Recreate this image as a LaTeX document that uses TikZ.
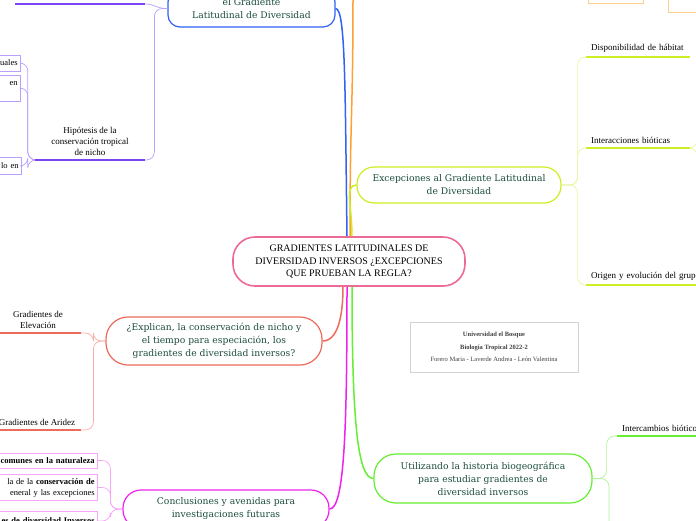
\documentclass[tikz,border=0pt]{standalone}
\usepackage{fontspec}
\setmainfont{Liberation Serif}
\newfontfamily\temafont{DejaVu Serif}
\usetikzlibrary{positioning}

\definecolor{rosa}{HTML}{EE6A96}
\definecolor{azul}{HTML}{2F62F5}
\definecolor{naranja}{HTML}{FFA033}
\definecolor{naranjaclaro}{HTML}{FFD08C}
\definecolor{morado}{HTML}{7A45F5}
\definecolor{moradoclaro}{HTML}{B9A0FF}
\definecolor{salmon}{HTML}{EE6A5A}
\definecolor{salmonclaro}{HTML}{F7AFA5}
\definecolor{fucsia}{HTML}{EE22EE}
\definecolor{fucsiaclaro}{HTML}{F7A5F7}
\definecolor{lima}{HTML}{CCEE22}
\definecolor{limaclaro}{HTML}{E6F7A0}
\definecolor{verdeb}{HTML}{66EE33}
\definecolor{verdeclaro}{HTML}{B0F595}
\definecolor{textoverde}{HTML}{1B4D3B}

\begin{document}
\begin{tikzpicture}[
          x=1pt, y=-1pt,
          raiz/.style = {draw=rosa, line width=1.6pt, rounded corners=22pt, fill=white, align=center, font=\fontsize{10}{12.5}\selectfont, minimum width=232pt, minimum height=49pt, inner sep=0pt},
          tema/.style = {draw, line width=1.2pt, rounded corners=17pt, fill=white, align=center, text=textoverde, font=\temafont\fontsize{9.2}{13}\selectfont, inner sep=0pt},
          hoja/.style = {font=\fontsize{9}{11}\selectfont, align=center, inner xsep=0pt, inner ysep=4pt},
          caja/.style = {draw, line width=0.8pt, fill=white, font=\fontsize{8.5}{11}\selectfont, align=right, text width=70pt, inner sep=3pt},
          rama/.style = {line width=1.5pt},
          subrama/.style = {line width=0.7pt, rounded corners=8pt},
          subraya/.style = {line width=1.6pt}
         ]
        \useasboundingbox (0,0) rectangle (696,520);
        \clip (0,0) rectangle (696,520);

        % Tema central
        \node[raiz] (raiz) at (349,261.5) {GRADIENTES LATITUDINALES DE\\DIVERSIDAD INVERSOS ¿EXCEPCIONES\\QUE PRUEBAN LA REGLA?};

        % Temas principales
        \node[tema, draw=azul, rounded corners=12pt, minimum width=167pt, minimum height=37pt] (hipot) at (251.5,8.5) {el Gradiente\\Latitudinal de Diversidad};
        \node[tema, draw=lima, minimum width=204pt, minimum height=36pt] (excep) at (459,185) {Excepciones al Gradiente Latitudinal\\de Diversidad};
        \node[tema, draw=salmon, rounded corners=22pt, minimum width=216pt, minimum height=48pt] (expl) at (214,341) {¿Explican, la conservación de nicho y\\el tiempo para especiación, los\\gradientes de diversidad inversos?};
        \node[tema, draw=verdeb, rounded corners=22pt, minimum width=218pt, minimum height=49pt] (util) at (483,478.5) {Utilizando la historia biogeográfica\\para estudiar gradientes de\\diversidad inversos};
        \node[tema, draw=fucsia, rounded corners=18pt, minimum width=206pt, minimum height=38pt] (concl) at (226,509) {Conclusiones y avenidas para\\investigaciones futuras};

        % Recuadro de datos
        \node[draw=gray!35, line width=1pt, fill=white, minimum width=168pt, minimum height=50pt, align=center, font=\fontsize{6.5}{12.5}\selectfont, text=black!75] (info) at (494,347) {\textbf{Universidad el Bosque}\\\textbf{Biología Tropical 2022-2}\\Forero Maria - Laverde Andrea - León Valentina};

        % Subtemas (azul / morado)
        \node[hoja, minimum width=130pt, anchor=south] (ramaA) at (80,4) {};
        \node[hoja, minimum width=110pt, anchor=south] (hipo) at (90,160) {Hipótesis de la\\conservación tropical\\de nicho};
        \node[caja, draw=moradoclaro, anchor=east, minimum height=16pt] (iguales) at (21,63) {uales};
        \node[caja, draw=moradoclaro, anchor=east, minimum height=26pt, text depth=10pt] (tropico) at (21,88) {en};
        \node[caja, draw=moradoclaro, anchor=east, minimum height=17pt] (tiempo) at (22,166) {lo en};

        % Subtemas (salmon)
        \node[hoja, minimum width=86pt, anchor=south] (elev) at (38,333) {Gradientes de\\Elevación};
        \node[hoja, minimum width=88pt, anchor=south] (arid) at (37,430) {Gradientes de Aridez};

        % Subtemas (fucsia)
        \node[caja, draw=fucsiaclaro, anchor=east, text width=140pt, minimum height=15pt] (comun) at (98,460.5) {\bfseries comunes en la naturaleza};
        \node[caja, draw=fucsiaclaro, anchor=east, text width=140pt, minimum height=26pt] (regla) at (98,487.5) {la de la \textbf{conservación de}\\eneral y las excepciones};
        \node[caja, draw=fucsiaclaro, anchor=east, text width=140pt, minimum height=20pt] (inversos) at (98,521) {\bfseries es de diversidad Inversos};

        % Subtemas (lima)
        \node[hoja, text width=94pt, align=left, inner xsep=5pt, anchor=south west] (disp) at (586,57) {Disponibilidad de hábitat};
        \node[hoja, text width=94pt, align=left, inner xsep=5pt, anchor=south west] (inter) at (586,148) {Interacciones bióticas};
        \node[hoja, text width=130pt, align=left, inner xsep=5pt, anchor=south west] (origen) at (586,285) {Origen y evolución del grupo};

        % Subtemas (verde)
        \node[hoja, text width=100pt, align=left, inner xsep=5pt, anchor=south west] (interc) at (617,436) {Intercambios bióticos};

        % Subtemas (naranja)
        \node[draw=naranjaclaro, line width=1pt, minimum width=55pt, minimum height=20pt, anchor=south] (nar1) at (615.5,4) {};
        \node[draw=naranjaclaro, line width=1pt, minimum width=40pt, minimum height=30pt, anchor=south west] (nar2) at (668,13) {};

        \coordinate (narfin) at (353,-5);
        \coordinate (utilfin) at (609,540);
        \coordinate (interA) at (697,100);
        \coordinate (interB) at (697,200);

        % Ramas principales
        \draw[rama, azul] ([xshift=-2pt]raiz.north) .. controls +(-2,-150) and +(10,0) .. (hipot.east);
        \draw[rama, naranja] ([xshift=1pt]raiz.north) .. controls +(0,-120) and +(0,120) .. (narfin);
        \draw[rama, lima] ([xshift=3pt]raiz.north) .. controls +(0,-30) and +(-12,0) .. (excep.west);
        \draw[rama, salmon] ([xshift=-6pt]raiz.south) .. controls +(0,30) and +(15,0) .. (expl.east);
        \draw[rama, fucsia] ([xshift=-2pt]raiz.south) .. controls +(0,140) and +(15,0) .. (concl.east);
        \draw[rama, verdeb] ([xshift=3pt]raiz.south) .. controls +(0,140) and +(-15,0) .. (util.west);

        % Ramas secundarias
        \draw[subrama, moradoclaro] (hipot.west) .. controls +(-12,0) and +(10,0) .. (ramaA.south east);
        \draw[subrama, moradoclaro] (hipot.west) -- +(-13,0) |- (hipo.south east);
        \draw[subrama, moradoclaro] (hipo.south west) -- +(-7,0) |- (iguales.east);
        \draw[subrama, moradoclaro] (hipo.south west) -- +(-7,0) |- (tropico.east);
        \draw[subrama, moradoclaro] (hipo.south west) -- +(-7,0) |- (tiempo.east);
        \draw[subrama, salmonclaro] (expl.west) -- +(-12,0) |- (elev.south east);
        \draw[subrama, salmonclaro] (expl.west) -- +(-12,0) |- (arid.south east);
        \draw[subrama, fucsiaclaro] (concl.west) -- +(-12,0) |- (comun.east);
        \draw[subrama, fucsiaclaro] (concl.west) -- +(-12,0) |- (regla.east);
        \draw[subrama, fucsiaclaro] (concl.west) -- +(-12,0) |- (inversos.east);
        \draw[subrama, limaclaro] (excep.east) -- +(16,0) |- (disp.south west);
        \draw[subrama, limaclaro] (excep.east) -- +(16,0) |- (inter.south west);
        \draw[subrama, limaclaro] (excep.east) -- +(16,0) |- (origen.south west);
        \draw[subrama, limaclaro] (inter.south east) -| (interA);
        \draw[subrama, limaclaro] (inter.south east) -| (interB);
        \draw[subrama, verdeclaro] (util.east) -- +(14,0) |- (interc.south west);
        \draw[subrama, verdeclaro] (util.east) -| (utilfin);

        % Subrayados
        \draw[subraya, morado] (ramaA.south west) -- (ramaA.south east);
        \draw[subraya, morado] (hipo.south west) -- (hipo.south east);
        \draw[subraya, salmon] (elev.south west) -- (elev.south east);
        \draw[subraya, salmon] (arid.south west) -- (arid.south east);
        \draw[subraya, lima] (disp.south west) -- (disp.south east);
        \draw[subraya, lima] (inter.south west) -- (inter.south east);
        \draw[subraya, lima] (origen.south west) -- (origen.south east);
        \draw[subraya, verdeb] (interc.south west) -- (interc.south east);

\end{tikzpicture}
\end{document}
